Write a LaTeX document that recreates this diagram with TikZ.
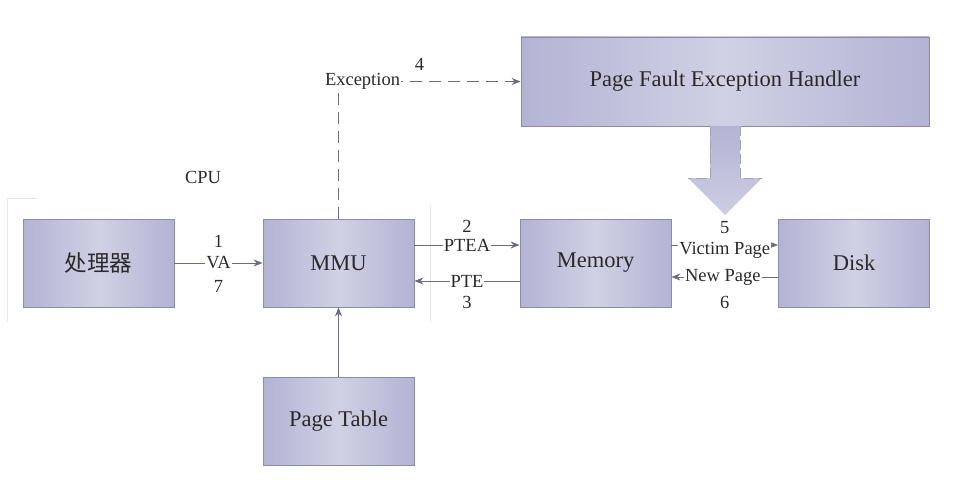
\documentclass[tikz,border=0pt]{standalone}
\usepackage{fontspec}
\setmainfont{Liberation Serif}
\newfontfamily\cjk{Noto Sans CJK SC}
\usetikzlibrary{arrows.meta}
\definecolor{boxedge}{HTML}{B3B3D4}
\definecolor{boxmid}{HTML}{D0D1E4}
\definecolor{boxline}{HTML}{8C8CAA}
\definecolor{arr}{HTML}{6B6B86}
\definecolor{txt}{HTML}{2A2A2A}
\tikzset{
  box/.style={draw=boxline, line width=0.8pt, left color=boxedge, right color=boxedge, middle color=boxmid,
    minimum width=151pt, minimum height=88pt, inner sep=0pt, font=\fontsize{22.5}{26}\selectfont, text=txt},
  conn/.style={draw=arr, line width=1pt, -{Stealth[length=9pt,width=7pt]}},
  lab/.style={fill=white, inner sep=1pt, font=\fontsize{18.5}{21}\selectfont, text=txt},
  num/.style={inner sep=0pt, font=\fontsize{18.5}{21}\selectfont, text=txt},
  faint/.style={draw=gray!18, line width=0.8pt}
}
\begin{document}
\begin{tikzpicture}[x=1pt,y=-1pt]
\useasboundingbox (0,0) rectangle (963,492);
% faint frame remnants
\draw[faint] (37,198) -- (7,198) -- (7,322);
\draw[faint] (430,205) -- (430,322);
% boxes
\node[box] (cpu) at (98.5,263) {\cjk 处理器};
\node[box] (mmu) at (338.5,263) {MMU};
\node[box] (mem) at (595.5,263) {Memory};
\node[box] (disk) at (854,263) {Disk};
\node[box] (pt) at (338.5,421.5) {Page Table};
\node[box, minimum width=408pt, minimum height=89pt] (pfh) at (725,81.5) {Page Fault Exception Handler};
\node[num] (cpulab) at (203,177) {CPU};
% big arrow
\shade[top color=boxedge, bottom color=boxmid!90!boxedge]
  (710,126) -- (740,126) -- (740,178) -- (762,178) -- (725,215) -- (688,178) -- (710,178) -- cycle;
\draw[draw=boxline!80, line width=0.8pt, dashed, dash pattern=on 10pt off 4pt] (710,126) -- (710,178) -- (688,178);
\draw[draw=boxline!80, line width=0.8pt, dashed, dash pattern=on 10pt off 4pt] (740,126) -- (740,178) -- (762,178);
% connectors
\draw[conn] (cpu.east) -- (mmu.west)
  node[lab, midway] (va) {VA}
  node[num, midway, yshift=22pt] (n1) {1}
  node[num, midway, yshift=-23pt] (n7) {7};
\draw[conn] ([yshift=18pt]mmu.east) -- ([yshift=18pt]mem.west)
  node[lab, midway] (ptea) {PTEA}
  node[num, midway, yshift=19pt] (n2) {2};
\draw[conn] ([yshift=-18pt]mem.west) -- ([yshift=-18pt]mmu.east)
  node[lab, midway] (pte) {PTE}
  node[num, midway, yshift=-21pt] (n3) {3};
\draw[conn] ([yshift=18pt]mem.east) -- ([yshift=18pt]disk.west)
  node[lab, midway, yshift=-5pt] (vp) {Victim Page}
  node[num, midway, yshift=17pt] (n5) {5};
\draw[conn] ([yshift=-14pt]disk.west) -- ([yshift=-14pt]mem.east)
  node[lab, midway, xshift=-2pt] (np) {New Page}
  node[num, midway, yshift=-25pt] (n6) {6};
\draw[conn] (pt.north) -- (mmu.south);
\draw[conn, dashed, dash pattern=on 12pt off 7pt] (mmu.north) |- (pfh.west)
  node[lab, pos=0.5, xshift=24pt] (exc) {Exception}
  node[num, pos=0.5, xshift=81pt, yshift=17pt] (n4) {4};
\end{tikzpicture}
\end{document}
